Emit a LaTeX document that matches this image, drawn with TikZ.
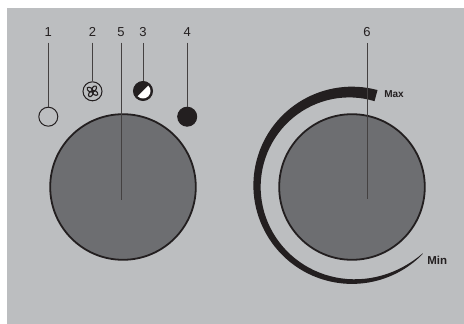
\documentclass[tikz,border=0pt]{standalone}
\usepackage{xcolor}
\usepackage{fontspec}
\setmainfont{Liberation Sans}
\usepackage{tikz}

\definecolor{panelgray}{HTML}{BCBEC0}
\definecolor{knobgray}{HTML}{6D6E71}
\definecolor{inkblack}{HTML}{231F20}

\tikzset{
	knob/.style={circle,draw=inkblack,line width=1.8pt,fill=knobgray,minimum size=145.6pt,inner sep=0pt},
	lamp/.style={circle,draw=inkblack,line width=1pt,minimum size=19pt,inner sep=0pt},
	numlabel/.style={text=inkblack,inner sep=6pt,font=\fontsize{13}{13}\selectfont},
	endlabel/.style={text=inkblack,inner sep=0pt,font=\bfseries\fontsize{10}{10}\selectfont},
	leader/.style={draw=inkblack!85,line width=0.7pt}
}

\begin{document}
\begin{tikzpicture}[x=1pt,y=1pt]
			
			\useasboundingbox (0,0) rectangle (464,324);
			\fill[white] (0,0) rectangle (464,324);
			\fill[panelgray] (7,0) rectangle (464,316);
			
			\node[knob] (knobL) at (123,137) {};
			\node[knob] (knobR) at (352,137) {};
			
			\node[lamp] (lamp1) at (48.3,207.3) {};
			\node[lamp] (lamp2) at (92.5,232.7) {};
			\node[lamp,fill=inkblack] (lamp3) at (143,233) {};
			\node[lamp,fill=inkblack] (lamp4) at (187.2,207.3) {};
			
			% fan blades
			\foreach \a in {45,135,225,315}
				\draw[inkblack,line width=1.1pt,rotate around={\a+12:(lamp2.center)}] ([xshift=3pt]lamp2.center) ellipse (3.2pt and 2pt);
			
			% white half of lamp 3
			\fill[white] (lamp3.center) ++(45:7.5) arc (45:-135:7.5) -- cycle;
			
			% scale around the right knob
			\fill[inkblack,shift={(352,138.7)}] (75:98.6) arc (75:316:98.6) -- plot[domain=316:75,samples=70] (\x:{98.6-(.5+4.8*(1-((\x-75)/241)^8)+6.2*(1-(\x-75)/241)^2)}) -- cycle;
			
			\node[numlabel] (lab1) at (48.3,292) {1};
			\node[numlabel] (lab2) at (92.5,292) {2};
			\node[numlabel] (lab3) at (143,292) {3};
			\node[numlabel] (lab4) at (187.2,292) {4};
			\node[numlabel] (lab5) at (121,292) {5};
			\node[numlabel] (lab6) at (367,292) {6};
			
			\coordinate (end5) at (121,124);
			\coordinate (end6) at (367,125);
			
			\draw[leader] (lab1)-- (lamp1);
			\draw[leader] (lab2)-- (lamp2);
			\draw[leader] (lab3)-- (lamp3);
			\draw[leader] (lab4)-- (lamp4);
			\draw[leader] (lab5)-- (end5);
			\draw[leader] (lab6)-- (end6);
			
			\node[endlabel] (maxlabel) at (394,230) {Max};
			\node[endlabel,font=\bfseries\fontsize{11.5}{11.5}\selectfont] (minlabel) at (437.3,64) {Min};
			
		\end{tikzpicture}
\end{document}
